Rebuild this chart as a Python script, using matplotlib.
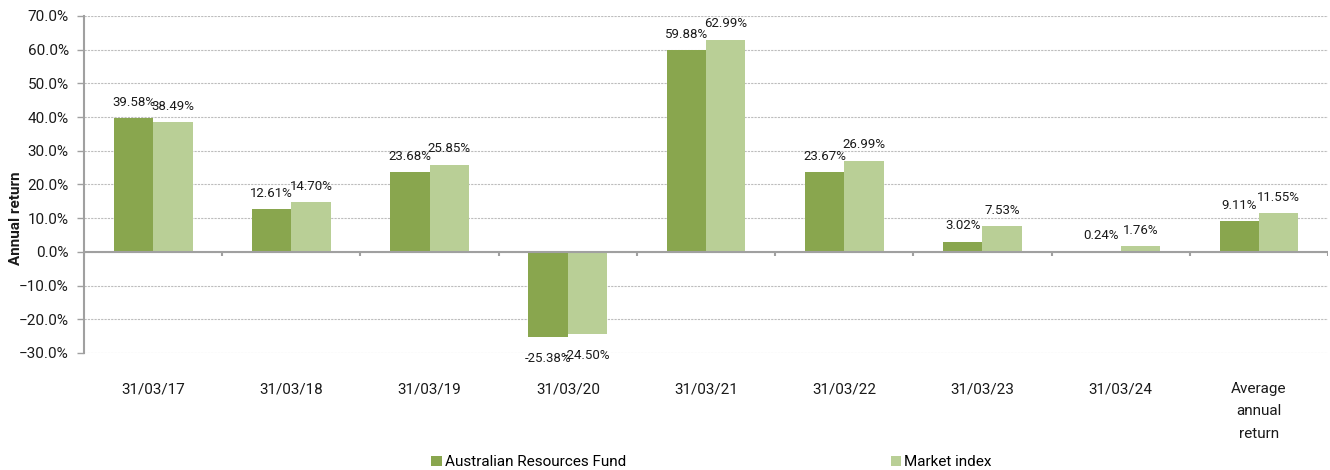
import numpy as np
import matplotlib
matplotlib.use("Agg")
import matplotlib.pyplot as plt
from matplotlib.ticker import PercentFormatter

plt.rcParams["font.family"] = ["Roboto", "DejaVu Sans"]

categories = ["31/03/17", "31/03/18", "31/03/19", "31/03/20", "31/03/21",
              "31/03/22", "31/03/23", "31/03/24", "Average\nannual\nreturn"]
fund = [39.58, 12.61, 23.68, -25.38, 59.88, 23.67, 3.02, 0.24, 9.11]
index = [38.49, 14.70, 25.85, -24.50, 62.99, 26.99, 7.53, 1.76, 11.55]
series_names = ["Australian Resources Fund", "Market index"]

DARK, LIGHT, GRID, AXIS, INK = "#89a64e", "#b9cf96", "#bdbdbd", "#a0a0a0", "#1a1a1a"

fig = plt.figure(figsize=(13.3, 4.7), dpi=100)
ax = fig.add_axes([0.0632, 0.249, 0.9353, 0.717])

x = np.arange(len(categories))
w = 0.285
b1 = ax.bar(x - w / 2, fund, w, color=DARK, label=series_names[0], zorder=3)
b2 = ax.bar(x + w / 2, index, w, color=LIGHT, label=series_names[1], zorder=3)

for bars, vals in ((b1, fund), (b2, index)):
    for r, v in zip(bars, vals):
        off = 2.8 if v >= 0 else -4.4
        ax.text(r.get_x() + r.get_width() / 2, v + off, f"{v:.2f}%",
                ha="center", va="bottom" if v >= 0 else "top",
                fontsize=9.5, color=INK, zorder=4)

ax.set_xlim(-0.5, len(categories) - 0.5)
ax.set_ylim(-30, 70)
ax.set_yticks(np.arange(-30, 71, 10))
ax.yaxis.set_major_formatter(PercentFormatter(decimals=1))
ax.yaxis.grid(True, color=GRID, linestyle=(0, (2, 1)), linewidth=0.8, zorder=0)

ax.set_xticks(x)
ax.set_xticklabels(categories, fontsize=11, color=INK, va="top", linespacing=1.75)
ax.tick_params(axis="x", length=0, pad=21)
ax.tick_params(axis="y", length=5, width=1, color=AXIS, labelsize=11,
               labelcolor=INK, pad=6)

for s in ("top", "right", "bottom"):
    ax.spines[s].set_visible(False)
ax.spines["left"].set_color(AXIS)
ax.spines["left"].set_linewidth(1.5)

# zero line with category-boundary ticks
ax.axhline(0, color=AXIS, linewidth=1.5, zorder=3)
ax.vlines(np.arange(len(categories) + 1) - 0.5, -1.3, 0, color=AXIS,
          linewidth=1.5, zorder=3)

ax.set_ylabel("Annual return", fontsize=11, fontweight="bold", color=INK)
ax.yaxis.set_label_coords(-0.049, 0.40)

fig.legend(handles=[b1, b2], loc="lower center", bbox_to_anchor=(0.535, -0.028),
           ncol=2, frameon=False, fontsize=11, handlelength=0.7, handleheight=0.7,
           handletextpad=0.2, columnspacing=17.3)

fig.savefig("out.png", dpi=100, facecolor="white")
